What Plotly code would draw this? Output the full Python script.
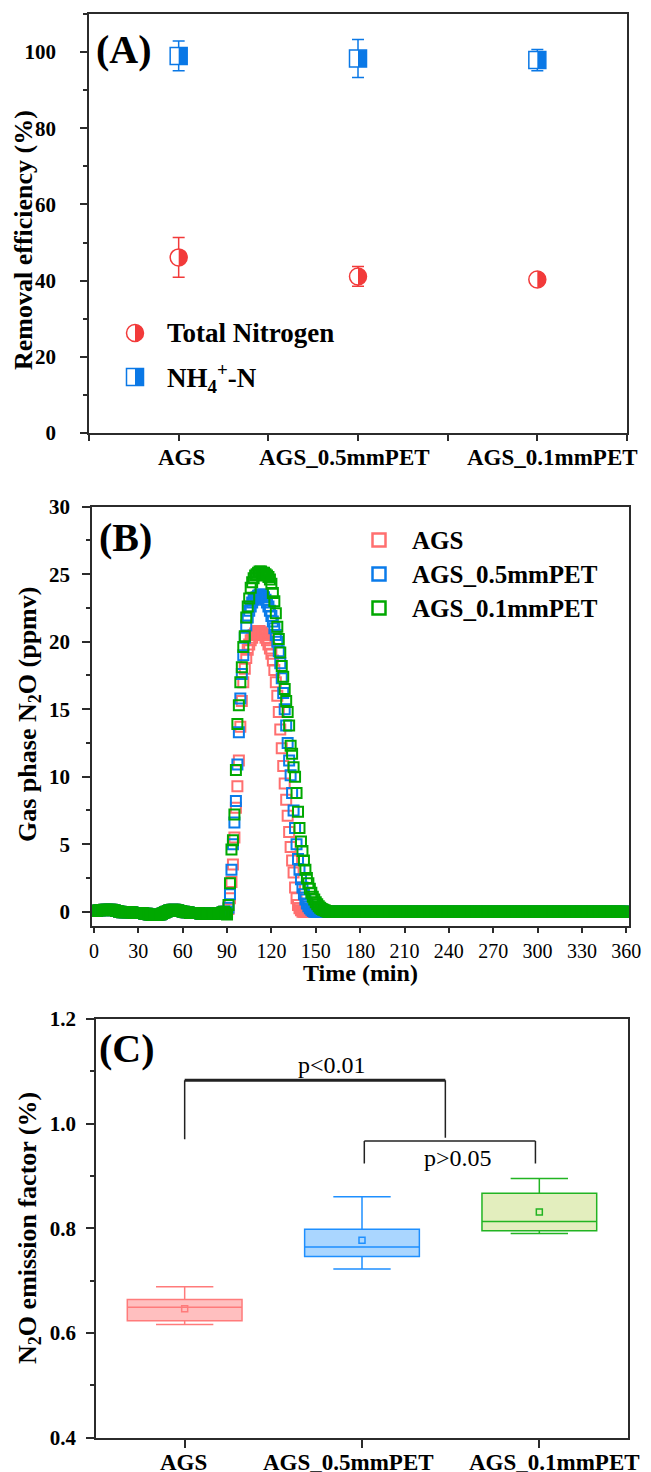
import plotly.graph_objects as go

# ---------------------------------------------------------------- data ----
categories = ["AGS", "AGS_0.5mmPET", "AGS_0.1mmPET"]
cat_pos = [1, 2, 3]

# (A) removal efficiency, mean and standard deviation (%)
tn_mean = [46.1, 41.1, 40.3]
tn_err = [5.2, 2.6, 1.4]
nh4_mean = [99.0, 98.3, 97.9]
nh4_err = [3.9, 5.0, 2.8]

# (B) gas phase N2O (ppmv), sampled every minute
t_base = list(range(0, 88))
t_peak = list(range(88, 161))
t_tail = list(range(161, 361))

# aerated start-up phase before the N2O burst (0-87 min)
n2o_base = [
    0.05, 0.05, 0.05, 0.10, 0.10, 0.10, 0.10, 0.15, 0.15, 0.15,
    0.15, 0.15, 0.15, 0.10, 0.10, 0.05, 0.05, 0.00, 0.00, -0.05,
    -0.05, -0.05, -0.05, -0.05, -0.05, -0.05, -0.05, -0.10, -0.10, -0.10,
    -0.10, -0.10, -0.10, -0.10, -0.15, -0.15, -0.15, -0.20, -0.20, -0.25,
    -0.25, -0.25, -0.25, -0.25, -0.20, -0.20, -0.15, -0.10, -0.05, 0.00,
    0.05, 0.10, 0.10, 0.15, 0.15, 0.15, 0.10, 0.10, 0.05, 0.05,
    0.00, 0.00, -0.05, -0.05, -0.05, -0.10, -0.10, -0.10, -0.10, -0.10,
    -0.10, -0.10, -0.15, -0.15, -0.15, -0.15, -0.15, -0.15, -0.15, -0.15,
    -0.15, -0.15, -0.15, -0.15, -0.10, -0.10, -0.10, -0.05,
]

# emission peak, 88-160 min
ags_peak = [
    0.0, 0.0, 0.0, 0.2, 1.0, 2.2, 3.5, 5.5, 7.7, 9.3,
    11.2, 13.7, 15.6, 17.0, 18.0, 18.8, 19.4, 19.8, 20.1, 20.3,
    20.5, 20.6, 20.7, 20.8, 20.8, 20.7, 20.6, 20.5, 20.3, 20.1,
    19.8, 19.5, 19.1, 18.6, 17.9, 17.0, 16.0, 14.8, 13.5, 12.1,
    10.8, 9.5, 8.3, 7.1, 5.9, 4.8, 3.8, 2.9, 1.8, 1.0,
    0.5, 0.25, 0.1, 0.0, 0.0, 0.0, 0.0, 0.0, 0.0, 0.0,
    0.0, 0.0, 0.0, 0.0, 0.0, 0.0, 0.0, 0.0, 0.0, 0.0,
    0.0, 0.0, 0.0,
]
pet05_peak = [
    0.0, 0.0, 0.0, 0.3, 1.3, 3.1, 5.0, 6.6, 8.2, 10.9,
    13.3, 15.8, 17.6, 19.0, 20.3, 21.2, 21.8, 22.3, 22.6, 22.9,
    23.1, 23.2, 23.3, 23.4, 23.5, 23.5, 23.4, 23.3, 23.1, 22.9,
    22.6, 22.3, 21.9, 21.5, 21.0, 20.5, 20.0, 19.3, 18.4, 17.3,
    16.2, 15.0, 13.8, 12.5, 11.2, 10.1, 8.8, 7.5, 6.2, 5.0,
    3.9, 3.1, 2.4, 1.8, 1.3, 0.9, 0.6, 0.4, 0.25, 0.15,
    0.05, 0.0, 0.0, 0.0, 0.0, 0.0, 0.0, 0.0, 0.0, 0.0,
    0.0, 0.0, 0.0,
]
pet01_peak = [
    0.0, -0.1, -0.2, 0.5, 2.1, 4.6, 5.3, 7.2, 10.5, 13.9,
    15.3, 17.0, 18.1, 19.6, 20.4, 21.8, 22.6, 23.2, 24.0, 24.4,
    24.7, 24.9, 25.0, 25.1, 25.2, 25.2, 25.1, 25.1, 25.0, 24.9,
    24.8, 24.6, 24.3, 23.6, 23.0, 22.1, 21.1, 20.2, 19.2, 18.2,
    17.4, 16.5, 15.6, 14.8, 13.8, 12.3, 11.7, 10.7, 10.0, 8.8,
    7.4, 6.2, 5.2, 4.5, 3.8, 3.1, 2.5, 2.1, 1.7, 1.4,
    1.1, 0.9, 0.7, 0.55, 0.4, 0.3, 0.2, 0.15, 0.1, 0.05,
    0.0, 0.0, 0.0,
]

# settled / idle phase after the burst (161-360 min)
n2o_tail = [
    0.0, 0.0, 0.0, 0.0, 0.0, 0.0, 0.0, 0.0, 0.0, 0.0, 0.0, 0.0, 0.0, 0.0, 0.0, 0.0, 0.0, 0.0, 0.0, 0.0,
    0.0, 0.0, 0.0, 0.0, 0.0, 0.0, 0.0, 0.0, 0.0, 0.0, 0.0, 0.0, 0.0, 0.0, 0.0, 0.0, 0.0, 0.0, 0.0, 0.0,
    0.0, 0.0, 0.0, 0.0, 0.0, 0.0, 0.0, 0.0, 0.0, 0.0, 0.0, 0.0, 0.0, 0.0, 0.0, 0.0, 0.0, 0.0, 0.0, 0.0,
    0.0, 0.0, 0.0, 0.0, 0.0, 0.0, 0.0, 0.0, 0.0, 0.0, 0.0, 0.0, 0.0, 0.0, 0.0, 0.0, 0.0, 0.0, 0.0, 0.0,
    0.0, 0.0, 0.0, 0.0, 0.0, 0.0, 0.0, 0.0, 0.0, 0.0, 0.0, 0.0, 0.0, 0.0, 0.0, 0.0, 0.0, 0.0, 0.0, 0.0,
    0.0, 0.0, 0.0, 0.0, 0.0, 0.0, 0.0, 0.0, 0.0, 0.0, 0.0, 0.0, 0.0, 0.0, 0.0, 0.0, 0.0, 0.0, 0.0, 0.0,
    0.0, 0.0, 0.0, 0.0, 0.0, 0.0, 0.0, 0.0, 0.0, 0.0, 0.0, 0.0, 0.0, 0.0, 0.0, 0.0, 0.0, 0.0, 0.0, 0.0,
    0.0, 0.0, 0.0, 0.0, 0.0, 0.0, 0.0, 0.0, 0.0, 0.0, 0.0, 0.0, 0.0, 0.0, 0.0, 0.0, 0.0, 0.0, 0.0, 0.0,
    0.0, 0.0, 0.0, 0.0, 0.0, 0.0, 0.0, 0.0, 0.0, 0.0, 0.0, 0.0, 0.0, 0.0, 0.0, 0.0, 0.0, 0.0, 0.0, 0.0,
    0.0, 0.0, 0.0, 0.0, 0.0, 0.0, 0.0, 0.0, 0.0, 0.0, 0.0, 0.0, 0.0, 0.0, 0.0, 0.0, 0.0, 0.0, 0.0, 0.0,
]

# (C) N2O emission factor (%), box statistics
ef_lower = [0.616, 0.722, 0.790]
ef_q1 = [0.623, 0.746, 0.795]
ef_median = [0.649, 0.764, 0.813]
ef_q3 = [0.664, 0.798, 0.867]
ef_upper = [0.688, 0.860, 0.895]
ef_mean = [0.646, 0.777, 0.831]

# ------------------------------------------------------------- styling ----
W, H = 651, 1472
SERIF = "Liberation Serif"
AXIS = "#2b2b2b"

RED_A = "#F23A3A"
BLUE_A = "#0A78E6"
RED_B = "#FF6F6F"
BLUE_B = "#0A7BEA"
GREEN_B = "#00A800"
BOX_LINE = ["#FF7B7B", "#1E8FFF", "#22B422"]
BOX_FILL = ["#FFBFBF", "#AAD6FF", "#E3EEBE"]


def fx(p):
    return p / W


def fy(p):
    return 1 - p / H


def font(size, bold=True):
    return dict(family=SERIF, size=size, color="black",
                weight="bold" if bold else "normal")


def axis_common(**kw):
    base = dict(showline=True, linecolor=AXIS, linewidth=1.5, mirror=True,
                ticks="outside", tickcolor=AXIS, tickwidth=1.5,
                showgrid=False, zeroline=False, automargin=False,
                fixedrange=True, tickangle=0)
    base.update(kw)
    return base


R = 8.5   # half size of the panel (A) markers, px
K = 0.5523


def right_half_circle(r):
    k = K * r
    return (f"M0,{r} C{k:.2f},{r} {r},{k:.2f} {r},0 "
            f"C{r},{-k:.2f} {k:.2f},{-r} 0,{-r} Z")


def right_half_square(h):
    return f"M0,{-h} L{h},{-h} L{h},{h} L0,{h} Z"


fig = go.Figure()
shapes = []
annotations = []

# ---------------------------------------------------------- panel (A) ----
fig.add_trace(go.Scatter(
    x=cat_pos, y=tn_mean, mode="markers", xaxis="x", yaxis="y",
    error_y=dict(type="data", array=tn_err, color=RED_A, thickness=1.5, width=6),
    marker=dict(symbol="circle", size=2 * R, color="white",
                line=dict(color=RED_A, width=1.5)),
    name="Total Nitrogen"))
fig.add_trace(go.Scatter(
    x=cat_pos, y=nh4_mean, mode="markers", xaxis="x", yaxis="y",
    error_y=dict(type="data", array=nh4_err, color=BLUE_A, thickness=1.5, width=6),
    marker=dict(symbol="square", size=2 * R, color="white",
                line=dict(color=BLUE_A, width=1.5)),
    name="NH4+-N"))

for xv, yv in zip(cat_pos, tn_mean):
    shapes.append(dict(type="path", xref="x", yref="y", xsizemode="pixel",
                       ysizemode="pixel", xanchor=xv, yanchor=yv,
                       path=right_half_circle(R), fillcolor=RED_A,
                       line=dict(width=0), layer="above"))
for xv, yv in zip(cat_pos, nh4_mean):
    shapes.append(dict(type="path", xref="x", yref="y", xsizemode="pixel",
                       ysizemode="pixel", xanchor=xv, yanchor=yv,
                       path=right_half_square(R), fillcolor=BLUE_A,
                       line=dict(width=0), layer="above"))

# legend of panel (A)
leg_x = fx(135)
for yy, kind in [(333, "circle"), (377, "square")]:
    col = RED_A if kind == "circle" else BLUE_A
    shapes.append(dict(type=kind if kind == "circle" else "rect",
                       xref="paper", yref="paper", xsizemode="pixel",
                       ysizemode="pixel", xanchor=leg_x, yanchor=fy(yy),
                       x0=-R, x1=R, y0=-R, y1=R, fillcolor="white",
                       line=dict(color=col, width=1.5)))
    shapes.append(dict(type="path", xref="paper", yref="paper",
                       xsizemode="pixel", ysizemode="pixel",
                       xanchor=leg_x, yanchor=fy(yy),
                       path=right_half_circle(R) if kind == "circle" else right_half_square(R),
                       fillcolor=col, line=dict(width=0)))
annotations.append(dict(x=fx(165), y=fy(333), xref="paper", yref="paper",
                        text="Total Nitrogen", showarrow=False,
                        xanchor="left", yanchor="middle", font=font(27)))
annotations.append(dict(x=fx(165), y=fy(378), xref="paper", yref="paper",
                        text="NH<sub>4</sub><sup>+</sup>-N", showarrow=False,
                        xanchor="left", yanchor="middle", font=font(27)))

# category labels under panels (A) and (C)
for txt, xx in zip(categories, [182, 344, 552]):
    annotations.append(dict(x=fx(xx), y=fy(457), xref="paper", yref="paper",
                            text=txt, showarrow=False, xanchor="center",
                            yanchor="middle", font=font(23)))
for txt, xx in zip(categories, [183, 348, 554]):
    annotations.append(dict(x=fx(xx), y=fy(1462), xref="paper", yref="paper",
                            text=txt, showarrow=False, xanchor="center",
                            yanchor="middle", font=font(23)))

# ---------------------------------------------------------- panel (B) ----
t_all = t_base + t_peak + t_tail
series_b = [
    ("AGS", n2o_base + ags_peak + n2o_tail, RED_B),
    ("AGS_0.5mmPET", n2o_base + pet05_peak + n2o_tail, BLUE_B),
    ("AGS_0.1mmPET", n2o_base + pet01_peak + n2o_tail, GREEN_B),
]
for name, vals, col in series_b:
    fig.add_trace(go.Scatter(
        x=t_all, y=vals, mode="markers", xaxis="x2", yaxis="y2", name=name,
        marker=dict(symbol="square-open", size=10, color=col,
                    line=dict(color=col, width=2))))

# legend of panel (B)
for (name, _, col), yy in zip(series_b, [540, 574, 608]):
    shapes.append(dict(type="rect", xref="paper", yref="paper",
                       xsizemode="pixel", ysizemode="pixel",
                       xanchor=fx(379), yanchor=fy(yy),
                       x0=-6.5, x1=6.5, y0=-6.5, y1=6.5,
                       line=dict(color=col, width=2.5)))
    annotations.append(dict(x=fx(410), y=fy(yy), xref="paper", yref="paper",
                            text=name, showarrow=False, xanchor="left",
                            yanchor="middle", font=font(25)))

# ---------------------------------------------------------- panel (C) ----
for i in range(3):
    fig.add_trace(go.Box(
        x=[cat_pos[i]], q1=[ef_q1[i]], median=[ef_median[i]], q3=[ef_q3[i]],
        lowerfence=[ef_lower[i]], upperfence=[ef_upper[i]],
        xaxis="x3", yaxis="y3", width=0.647, whiskerwidth=0.5,
        fillcolor=BOX_FILL[i], line=dict(color=BOX_LINE[i], width=1.5),
        boxpoints=False, name=categories[i]))
fig.add_trace(go.Scatter(
    x=cat_pos, y=ef_mean, mode="markers", xaxis="x3", yaxis="y3",
    marker=dict(symbol="square-open", size=6, color=BOX_LINE,
                line=dict(color=BOX_LINE, width=1.5)), name="mean"))

# significance brackets
BR = "#222222"
shapes += [
    dict(type="line", xref="x3", yref="y3", x0=1.0, x1=2.47, y0=1.083, y1=1.083,
         line=dict(color=BR, width=3)),
    dict(type="line", xref="x3", yref="y3", x0=1.0, x1=1.0, y0=1.083, y1=0.970,
         line=dict(color=BR, width=1.5)),
    dict(type="line", xref="x3", yref="y3", x0=2.47, x1=2.47, y0=1.083, y1=0.973,
         line=dict(color=BR, width=1.5)),
    dict(type="line", xref="x3", yref="y3", x0=2.013, x1=2.978, y0=0.967, y1=0.967,
         line=dict(color=BR, width=1.5)),
    dict(type="line", xref="x3", yref="y3", x0=2.013, x1=2.013, y0=0.967, y1=0.924,
         line=dict(color=BR, width=1.5)),
    dict(type="line", xref="x3", yref="y3", x0=2.978, x1=2.978, y0=0.967, y1=0.924,
         line=dict(color=BR, width=1.5)),
]
annotations.append(dict(x=1.83, y=1.112, xref="x3", yref="y3", text="p&lt;0.01",
                        showarrow=False, font=font(24, bold=False)))
annotations.append(dict(x=2.54, y=0.934, xref="x3", yref="y3", text="p&gt;0.05",
                        showarrow=False, font=font(24, bold=False)))

# ------------------------------------------------ titles & panel labels ----
for txt, xx, yy in [("(A)", 94, 50), ("(B)", 97, 537), ("(C)", 97, 1048)]:
    annotations.append(dict(x=fx(xx), y=fy(yy), xref="paper", yref="paper",
                            text=txt, showarrow=False, xanchor="left",
                            yanchor="middle", font=font(40)))
for txt, xx, yy in [("Removal efficiency (%)", 23, 240),
                    ("Gas phase N<sub>2</sub>O (ppmv)", 29, 715),
                    ("N<sub>2</sub>O emission factor (%)", 29, 1228)]:
    annotations.append(dict(x=fx(xx), y=fy(yy), xref="paper", yref="paper",
                            text=txt, showarrow=False, textangle=-90,
                            xanchor="center", yanchor="middle", font=font(26)))
annotations.append(dict(x=fx(360), y=fy(973), xref="paper", yref="paper",
                        text="Time (min)", showarrow=False, xanchor="center",
                        yanchor="middle", font=font(24)))

# ---------------------------------------------------------------- axes ----
layout = dict(
    width=W, height=H, margin=dict(l=0, r=0, t=0, b=0),
    paper_bgcolor="white", plot_bgcolor="white", showlegend=False,
    font=dict(family=SERIF, color="black"),
    xaxis=axis_common(domain=[fx(89), fx(627)], anchor="y", range=[0.5, 3.5],
                      tickvals=cat_pos, ticklen=6, showticklabels=False,
                      minor=dict(tickvals=[0.5, 1.5, 2.5, 3.5], ticks="outside",
                                 ticklen=6, tickcolor=AXIS, tickwidth=1.5)),
    yaxis=axis_common(domain=[fy(433), fy(14)], anchor="x", range=[0, 110],
                      tickvals=[0, 20, 40, 60, 80, 100], ticklen=7,
                      tickfont=font(21), ticklabelstandoff=20,
                      minor=dict(tickvals=[10, 30, 50, 70, 90, 110], ticks="outside",
                                 ticklen=4, tickcolor=AXIS, tickwidth=1.5)),
    xaxis2=axis_common(domain=[fx(92), fx(629)], anchor="y2", range=[-1.3, 361.8],
                       tick0=0, dtick=30, ticklen=5, tickfont=font(20, bold=False),
                       ticklabelstandoff=1),
    yaxis2=axis_common(domain=[fy(926), fy(506.7)], anchor="x2", range=[-1.06, 30],
                       tick0=0, dtick=5, ticklen=8, tickfont=font(21),
                       ticklabelstandoff=8,
                       minor=dict(dtick=2.5, ticks="outside", ticklen=4,
                                  tickcolor=AXIS, tickwidth=1.5)),
    xaxis3=axis_common(domain=[fx(96), fx(628)], anchor="y3", range=[0.5, 3.5],
                       tickvals=cat_pos, ticklen=9, showticklabels=False),
    yaxis3=axis_common(domain=[fy(1437.5), fy(1019)], anchor="x3", range=[0.4, 1.2],
                       tickvals=[0.4, 0.6, 0.8, 1.0, 1.2], tickformat=".1f",
                       ticklen=8, tickfont=font(21), ticklabelstandoff=6,
                       minor=dict(tickvals=[0.5, 0.7, 0.9, 1.1], ticks="outside",
                                  ticklen=4, tickcolor=AXIS, tickwidth=1.5)),
    shapes=shapes, annotations=annotations,
)
fig.update_layout(**layout)

fig.write_html("out.html", post_script="document.body.style.margin='0';")
